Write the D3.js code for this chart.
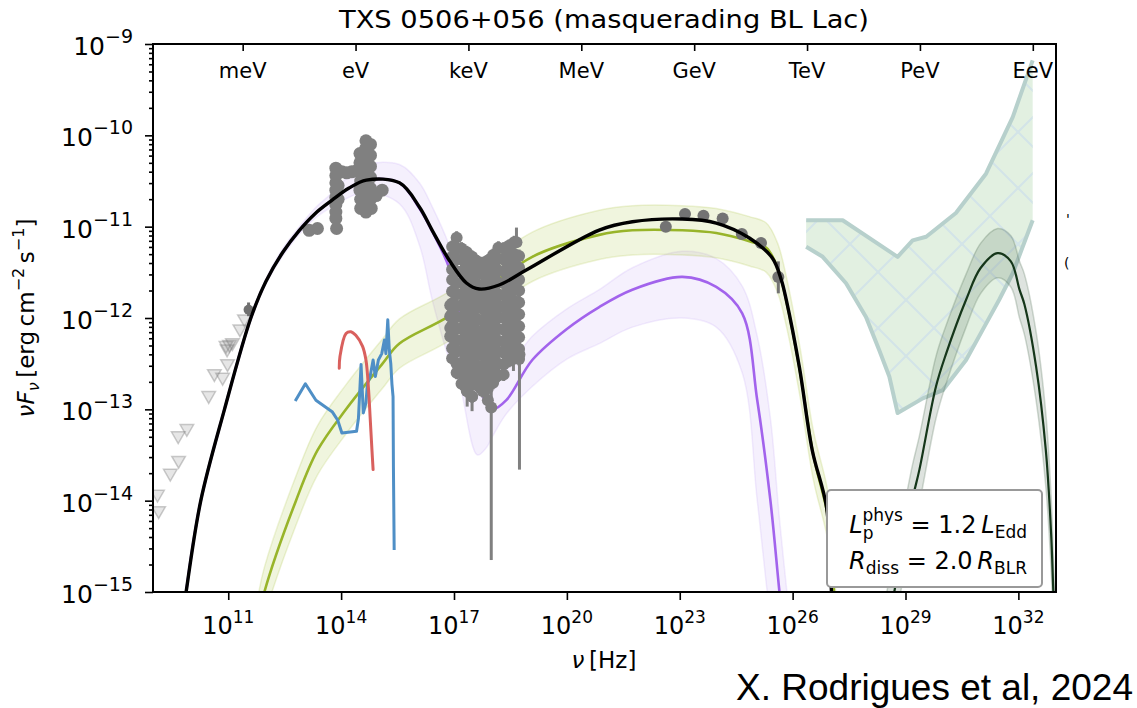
<!DOCTYPE html>
<html>
<head>
<meta charset="utf-8">
<script src="https://cdn.jsdelivr.net/npm/d3@7"></script>
<style>
  body { margin: 0; background: #fff; }
  svg { display: block; font-family: "DejaVu Sans", sans-serif; }
</style>
</head>
<body>
<svg id="chart" width="1137" height="708"></svg>
<script>
// All values are log10(nu / Hz) and log10(nuF_nu / erg cm^-2 s^-1)

const yTickExponents = [-15, -14, -13, -12, -11, -10, -9];
const xTickExponents = [11, 14, 17, 20, 23, 26, 29, 32];
const energyUnits = ["meV", "eV", "keV", "MeV", "GeV", "TeV", "PeV", "EeV"];
const energyUnitExponents = [-3, 0, 3, 6, 9, 12, 15, 18];   // log10(E / eV)
const planckEvS = 4.135667e-15;

// total emission (black)
const totalModel = [
  [9.78, -15.3], [9.88, -15.0], [10.27, -14.0], [10.9, -13.0], [11.6, -12.0], [12.0, -11.6],
  [12.45, -11.28], [12.89, -11.04], [13.3, -10.86], [13.76, -10.71], [14.2, -10.58], [14.67, -10.49],
  [15.55, -10.52], [16.08, -10.785], [16.42, -11.04], [16.87, -11.365], [17.33, -11.617],
  [17.67, -11.683], [18.2, -11.639], [18.92, -11.475], [20.86, -11.037], [21.74, -10.946],
  [23.07, -10.916], [23.97, -10.96], [24.85, -11.124], [25.46, -11.343], [25.70, -11.584],
  [25.83, -11.80], [26.18, -12.54], [26.52, -13.445], [26.90, -14.07], [27.03, -14.98], [27.06, -15.3]
];

// [log nu, curve, band low, band high]
const leptonicModel = [
  [11.80, -15.30, -15.57, -15.03], [11.96, -15.0, -15.27, -14.73], [12.8, -14.0, -14.27, -13.73],
  [13.37, -13.45, -13.72, -13.18], [14.13, -13.0, -13.27, -12.73], [15.1, -12.5, -12.77, -12.23],
  [15.55, -12.28, -12.55, -12.01], [16.87, -11.98, -12.25, -11.71], [19.08, -11.33, -11.60, -11.06],
  [20.86, -11.09, -11.36, -10.82], [21.74, -11.04, -11.31, -10.77], [23.07, -11.04, -11.31, -10.77],
  [23.97, -11.07, -11.34, -10.80], [24.85, -11.16, -11.43, -10.89], [25.3, -11.23, -11.50, -10.96],
  [25.6, -11.45, -11.72, -11.18], [25.85, -11.85, -12.12, -11.58], [26.2, -12.6, -12.87, -12.33],
  [26.55, -13.5, -13.77, -13.23], [26.95, -14.2, -14.47, -13.93], [27.1, -15.0, -15.27, -14.73],
  [27.15, -15.3, -15.57, -15.03]
];

const hadronicModel = [
  [9.80, -15.3, -15.32, -15.28], [9.88, -15.0, -15.03, -14.97], [10.27, -14.0, -14.03, -13.97],
  [10.9, -13.0, -13.03, -12.97], [11.6, -12.0, -12.03, -11.97], [12.0, -11.6, -11.63, -11.57],
  [12.45, -11.28, -11.32, -11.24], [12.89, -11.04, -11.08, -11.00], [13.3, -10.86, -10.91, -10.80],
  [13.76, -10.71, -10.78, -10.63], [14.2, -10.58, -10.68, -10.45], [14.67, -10.49, -10.62, -10.32],
  [15.55, -10.52, -10.75, -10.32], [16.08, -10.80, -11.2, -10.52], [16.42, -11.05, -11.8, -10.78],
  [16.87, -11.45, -12.45, -11.2], [17.14, -11.95, -12.71, -11.55], [17.62, -12.7, -13.5, -12.15],
  [17.86, -12.93, -13.42, -12.45], [18.02, -13.0, -13.3, -12.58], [18.39, -12.90, -13.05, -12.55],
  [19.08, -12.46, -12.75, -12.2], [20.0, -12.12, -12.45, -11.9], [20.86, -11.88, -12.28, -11.69],
  [21.74, -11.69, -12.1, -11.45], [23.07, -11.55, -12.0, -11.27], [23.97, -11.66, -12.1, -11.35],
  [24.66, -11.95, -12.6, -11.65], [25.06, -12.9, -14.0, -12.2], [25.41, -14.0, -15.3, -13.1],
  [25.65, -15.0, -16.0, -14.2], [25.9, -16.0, -17.0, -15.2]
];

// all-flavour neutrino spectrum
const neutrinoModel = [
  [28.5, -15.4, -15.8, -15.0], [28.7, -15.0, -15.37, -14.63], [29.18, -13.99, -14.36, -13.62],
  [29.37, -13.66, -14.03, -13.29], [29.81, -12.75, -13.1, -12.42], [30.08, -12.39, -12.72, -12.08],
  [30.61, -11.80, -12.1, -11.52], [31.0, -11.45, -11.73, -11.18], [31.45, -11.29, -11.56, -11.02],
  [31.8, -11.38, -11.66, -11.1], [32.03, -11.69, -12.0, -11.38], [32.16, -11.85, -12.18, -11.52],
  [32.47, -12.53, -12.9, -12.15], [32.73, -13.45, -13.85, -13.05], [32.87, -14.36, -14.75, -13.95],
  [32.93, -15.0, -15.4, -14.6], [32.98, -15.5, -15.9, -15.1]
];

// IceCube 2014-15 neutrino flux contour
const neutrinoFluxUpper = [
  [26.36, -10.93], [27.33, -10.93], [28.79, -11.33], [29.19, -11.15], [29.55, -11.11],
  [30.34, -10.85], [31.14, -10.42], [31.85, -9.80], [32.38, -9.18]
];
const neutrinoFluxLower = [
  [26.36, -11.22], [26.80, -11.33], [27.42, -11.62], [27.95, -11.99], [28.30, -12.35],
  [28.57, -12.64], [28.79, -13.04], [29.46, -12.88], [29.99, -12.79], [30.61, -12.46],
  [31.05, -12.13], [31.49, -11.80], [31.85, -11.51], [32.38, -10.93]
];

// radio / mm upper limits
const radioUpperLimits = [
  [9.12, -13.94], [9.15, -14.12], [9.46, -13.71], [9.68, -13.57], [9.67, -13.30], [9.90, -13.22],
  [10.48, -12.86], [10.63, -12.62], [10.85, -12.66], [10.98, -12.51], [10.97, -12.35],
  [10.94, -12.31], [11.03, -12.30], [11.11, -12.28], [11.31, -12.13], [11.43, -12.02]
];
const radioPoints = [[11.54, -11.91, -11.98, -11.83]];

// optical / UV photometry
const opticalPoints = [
  [13.15, -11.04], [13.37, -11.02],
  [13.86, -10.36], [13.86, -10.44], [13.86, -10.52], [13.86, -10.60], [13.86, -10.68], [13.86, -10.76],
  [13.86, -10.84], [13.86, -10.91], [13.88, -11.02], [13.92, -10.40], [13.92, -10.55], [13.92, -10.70],
  [14.02, -10.40], [14.15, -10.41], [14.28, -10.40], [14.40, -10.39],
  [14.50, -10.20], [14.50, -10.30], [14.52, -10.40], [14.52, -10.50], [14.50, -10.60], [14.52, -10.70],
  [14.52, -10.80], [14.66, -10.06], [14.66, -10.14], [14.66, -10.23], [14.66, -10.32], [14.66, -10.41],
  [14.66, -10.50], [14.66, -10.59], [14.66, -10.68], [14.66, -10.76], [14.66, -10.84],
  [14.78, -10.10], [14.78, -10.22], [14.78, -10.34], [14.78, -10.46], [14.78, -10.58], [14.78, -10.70],
  [14.80, -10.80], [14.93, -10.66], [15.09, -10.60]
];

// X-ray spectra (Swift-XRT / NuSTAR)
const xrayNu = [16.90, 16.95, 17.07, 17.20, 17.34, 17.48, 17.62, 17.76, 17.90, 18.04, 18.18, 18.32, 18.46, 18.60, 18.73];
const xrayFlux = [
  [-11.86, -11.98, -12.11, -12.20],
  [-11.22, -11.33, -11.47, -11.58, -11.71, -11.84, -11.95, -12.08, -12.21, -12.33, -12.44],
  [-11.12, -11.24, -11.36, -11.49, -11.62, -11.74, -11.87, -11.99, -12.12, -12.25, -12.37, -12.50, -12.60],
  [-11.24, -11.36, -11.49, -11.61, -11.74, -11.86, -11.99, -12.11, -12.24, -12.36, -12.49, -12.61, -12.72],
  [-11.28, -11.40, -11.52, -11.65, -11.78, -11.90, -12.03, -12.15, -12.28, -12.41, -12.53, -12.66, -12.80],
  [-11.33, -11.45, -11.58, -11.70, -11.83, -11.96, -12.08, -12.21, -12.34, -12.46, -12.59, -12.72, -12.86],
  [-11.38, -11.50, -11.63, -11.76, -11.88, -12.01, -12.14, -12.26, -12.39, -12.52, -12.64, -12.74],
  [-11.40, -11.52, -11.65, -11.78, -11.90, -12.03, -12.16, -12.29, -12.41, -12.54, -12.67, -12.80],
  [-11.37, -11.49, -11.62, -11.75, -11.87, -12.00, -12.13, -12.26, -12.38, -12.51, -12.64, -12.77, -12.90],
  [-11.31, -11.43, -11.56, -11.69, -11.82, -11.94, -12.07, -12.20, -12.33, -12.46, -12.58, -12.71],
  [-11.23, -11.35, -11.48, -11.61, -11.74, -11.86, -11.99, -12.12, -12.25, -12.37, -12.50, -12.63],
  [-11.24, -11.36, -11.49, -11.62, -11.75, -11.88, -12.00, -12.13, -12.26, -12.38, -12.51, -12.62],
  [-11.21, -11.33, -11.46, -11.59, -11.71, -11.84, -11.97, -12.10, -12.22, -12.35, -12.47],
  [-11.17, -11.30, -11.42, -11.55, -11.68, -11.81, -11.93, -12.06, -12.19, -12.31, -12.44],
  [-11.32, -11.45, -11.58, -11.70, -11.83, -11.96, -12.09, -12.21, -12.34, -12.45]
];
const xrayFluxError = 0.07;
const xrayWideErrors = [
  [17.35, -12.80, -12.97, -12.70], [17.48, -12.86, -13.02, -12.75], [17.99, -12.98, -14.65, -12.80],
  [18.74, -12.40, -13.66, -12.20], [18.66, -11.17, -11.17, -11.01], [18.58, -12.30, -12.58, -12.20]
];

// Fermi-LAT
const gammaPoints = [
  [22.63, -11.00, -11.00, -11.00], [23.14, -10.86, -10.86, -10.86], [23.63, -10.88, -10.88, -10.88],
  [24.14, -10.91, -10.91, -10.91], [24.65, -11.08, -11.08, -11.08], [25.16, -11.18, -11.18, -11.18],
  [25.62, -11.55, -11.73, -11.38]
];

// optical spectra
const redSpectrum = [
  [13.95, -12.55], [13.97, -12.42], [14.13, -12.17], [14.26, -12.15], [14.39, -12.19], [14.57, -12.31],
  [14.66, -12.46], [14.73, -12.79], [14.77, -13.08], [14.82, -13.45], [14.85, -13.66]
];
const blueSpectrum = [
  [12.78, -12.91], [13.05, -12.72], [13.33, -12.90], [13.77, -13.03], [13.91, -13.12], [14.02, -13.26],
  [14.41, -13.24], [14.46, -13.10], [14.53, -12.51], [14.59, -13.04], [14.66, -12.93], [14.70, -12.72],
  [14.77, -12.64], [14.85, -12.46], [14.91, -12.64], [14.99, -12.46], [15.08, -12.39], [15.15, -12.24],
  [15.19, -12.39], [15.24, -12.02], [15.28, -12.35], [15.32, -12.50], [15.35, -12.72], [15.38, -12.86],
  [15.39, -13.63], [15.41, -14.54]
];

// ---------------------------------------------------------------
const plot = { left: 153, right: 1056, top: 44, bottom: 592 };
const x = d3.scaleLog().domain([1e9, 1e33]).range([plot.left, plot.right]);
const y = d3.scaleLog().domain([1e-15, 1e-9]).range([plot.bottom, plot.top]);
const X = v => x(Math.pow(10, v));
const Y = v => y(Math.pow(10, v));

const svg = d3.select("#chart");
const defs = svg.append("defs");
defs.append("clipPath").attr("id", "plotClip").append("rect")
  .attr("x", plot.left).attr("y", plot.top)
  .attr("width", plot.right - plot.left).attr("height", plot.bottom - plot.top);

const hatch = defs.append("pattern").attr("id", "xhatch")
  .attr("patternUnits", "userSpaceOnUse").attr("width", 56).attr("height", 56)
  .attr("patternTransform", "translate(10,20)");
hatch.append("path").attr("d", "M0,0L56,56M56,0L0,56")
  .attr("stroke", "#d3e4e8").attr("stroke-width", 2.2).attr("fill", "none");

const P = svg.append("g").attr("clip-path", "url(#plotClip)");

const straight = d3.line().x(d => X(d[0])).y(d => Y(d[1]));
const smooth = d3.line().x(d => X(d[0])).y(d => Y(d[1])).curve(d3.curveCatmullRom.alpha(0.5));
const bandArea = d3.area().x(d => X(d[0])).y0(d => Y(d[2])).y1(d => Y(d[3])).curve(d3.curveCatmullRom.alpha(0.5));
const bandLow = d3.line().x(d => X(d[0])).y(d => Y(d[2])).curve(d3.curveCatmullRom.alpha(0.5));
const bandHigh = d3.line().x(d => X(d[0])).y(d => Y(d[3])).curve(d3.curveCatmullRom.alpha(0.5));

// neutrino flux contour
const contour = neutrinoFluxUpper.concat(neutrinoFluxLower.slice().reverse());
P.append("path").attr("d", straight(contour) + "Z").attr("fill", "#e2f0e1");
P.append("path").attr("d", straight(contour) + "Z").attr("fill", "url(#xhatch)");
[neutrinoFluxUpper, neutrinoFluxLower].forEach(edge => {
  P.append("path").attr("d", straight(edge)).attr("fill", "none")
    .attr("stroke", "#b7d0cc").attr("stroke-width", 4).attr("stroke-linejoin", "round");
});

// model bands
function drawBand(data, color, fillOp, edgeOp) {
  P.append("path").attr("d", bandArea(data)).attr("fill", color).attr("fill-opacity", fillOp);
  [bandLow, bandHigh].forEach(gen => {
    P.append("path").attr("d", gen(data)).attr("fill", "none")
      .attr("stroke", color).attr("stroke-opacity", edgeOp).attr("stroke-width", 1.5);
  });
}
drawBand(neutrinoModel, "#58755d", 0.2, 0.28);
drawBand(hadronicModel, "#b48cf0", 0.13, 0.16);
drawBand(leptonicModel, "#a9c23a", 0.17, 0.2);

P.append("path").attr("d", smooth(neutrinoModel)).attr("fill", "none")
  .attr("stroke", "#15361a").attr("stroke-width", 2.2);
P.append("path").attr("d", smooth(leptonicModel)).attr("fill", "none")
  .attr("stroke", "#98b42a").attr("stroke-width", 2.6);
P.append("path").attr("d", smooth(hadronicModel)).attr("fill", "none")
  .attr("stroke", "#a263ec").attr("stroke-width", 2.6);

// optical spectra
P.append("path").attr("d", straight(blueSpectrum)).attr("fill", "none")
  .attr("stroke", "#4f8fc6").attr("stroke-width", 3).attr("stroke-linejoin", "round");
P.append("path").attr("d", smooth(redSpectrum)).attr("fill", "none")
  .attr("stroke", "#d9605d").attr("stroke-width", 3).attr("stroke-linecap", "round");

// upper limits
const tri = d3.symbol().type(d3.symbolTriangle).size(80);
P.selectAll("path.ul").data(radioUpperLimits).enter().append("path").attr("class", "ul")
  .attr("d", tri).attr("transform", d => `translate(${X(d[0])},${Y(d[1]) - 1}) rotate(180)`)
  .attr("fill", "#808080").attr("fill-opacity", 0.2)
  .attr("stroke", "#808080").attr("stroke-opacity", 0.4).attr("stroke-width", 1.5);

// error bars
function errorBars(data, color, w) {
  P.selectAll(null).data(data).enter().append("line")
    .attr("x1", d => X(d[0])).attr("x2", d => X(d[0]))
    .attr("y1", d => Y(d[2])).attr("y2", d => Y(d[3]))
    .attr("stroke", color).attr("stroke-width", w);
}
function dots(data, color, r) {
  P.selectAll(null).data(data).enter().append("circle")
    .attr("cx", d => X(d[0])).attr("cy", d => Y(d[1])).attr("r", r).attr("fill", color);
}

errorBars(radioPoints, "#707070", 3);
dots(radioPoints, "#707070", 5);

dots(opticalPoints, "#808080", 6.5);

const xrayPoints = [];
xrayNu.forEach((nu, i) => xrayFlux[i].forEach(f => xrayPoints.push([nu, f, f - xrayFluxError, f + xrayFluxError])));
errorBars(xrayPoints, "#808080", 3);
errorBars(xrayWideErrors, "#808080", 3);
dots(xrayPoints, "#808080", 6);
dots(xrayWideErrors, "#808080", 6);

errorBars(gammaPoints, "#737373", 3);
dots(gammaPoints, "#737373", 6);

// total
P.append("path").attr("d", smooth(totalModel)).attr("fill", "none")
  .attr("stroke", "#000").attr("stroke-width", 3.4);

// ---------------- axes ----------------
const axes = svg.append("g");
const tickColor = "#000";

// y major + minor ticks (outward)
const yMinor = [];
yTickExponents.slice(0, -1).forEach(e => { for (let m = 2; m <= 9; m++) yMinor.push(m * Math.pow(10, e)); });
const gyMinor = axes.append("g").attr("transform", `translate(${plot.left},0)`)
  .call(d3.axisLeft(y).tickValues(yMinor).tickSize(4).tickFormat(""));
const gy = axes.append("g").attr("transform", `translate(${plot.left},0)`)
  .call(d3.axisLeft(y).tickValues(yTickExponents.map(e => Math.pow(10, e))).tickSize(8).tickFormat(""));
const gx = axes.append("g").attr("transform", `translate(0,${plot.bottom})`)
  .call(d3.axisBottom(x).tickValues(xTickExponents.map(e => Math.pow(10, e))).tickSize(8).tickFormat(""));
[gyMinor, gy, gx].forEach(g => {
  g.select(".domain").remove();
  g.selectAll(".tick line").attr("stroke", tickColor).attr("stroke-width", 1.6);
});

// energy ticks along the top (inward)
const energyNu = energyUnitExponents.map(e => Math.pow(10, e) / planckEvS);
const gTop = axes.append("g").attr("transform", `translate(0,${plot.top})`)
  .call(d3.axisTop(x).tickValues(energyNu).tickSizeInner(-7).tickSizeOuter(0).tickFormat(""));
gTop.select(".domain").remove();
gTop.selectAll(".tick line").attr("stroke", tickColor).attr("stroke-width", 1.6);
axes.selectAll("text.energy").data(energyUnits).enter().append("text").attr("class", "energy")
  .attr("x", (d, i) => x(energyNu[i])).attr("y", 78)
  .attr("text-anchor", "middle").attr("font-size", 21).attr("fill", "#000").text(d => d);

// spines
axes.append("rect").attr("x", plot.left).attr("y", plot.top)
  .attr("width", plot.right - plot.left).attr("height", plot.bottom - plot.top)
  .attr("fill", "none").attr("stroke", "#000").attr("stroke-width", 2);

// y tick labels
yTickExponents.forEach(e => {
  const t = axes.append("text").attr("x", 133).attr("y", Y(e) + 11)
    .attr("text-anchor", "end").attr("fill", "#000");
  t.append("tspan").attr("font-size", 25).text("10");
  t.append("tspan").attr("font-size", 19).attr("dy", -12).text("\u2212" + Math.abs(e));
});

// x tick labels
xTickExponents.forEach(e => {
  const t = axes.append("text").attr("x", X(e)).attr("y", 634)
    .attr("text-anchor", "middle").attr("fill", "#000");
  t.append("tspan").attr("font-size", 24).text("10");
  t.append("tspan").attr("font-size", 17).attr("dy", -11).text(String(e));
});

// axis titles
const xl = svg.append("text").attr("x", 604).attr("y", 668).attr("text-anchor", "middle")
  .attr("font-size", 23).attr("fill", "#000");
xl.append("tspan").attr("font-style", "italic").text("\u03bd");
xl.append("tspan").text("\u2009[Hz]");

const yl = svg.append("text").attr("transform", "translate(34,318) rotate(-90)")
  .attr("text-anchor", "middle").attr("font-size", 23).attr("fill", "#000");
yl.append("tspan").attr("font-style", "italic").text("\u03bdF");
yl.append("tspan").attr("font-style", "italic").attr("font-size", 16).attr("dy", 5).text("\u03bd");
yl.append("tspan").attr("dy", -5).text("\u2009[erg\u2009cm");
yl.append("tspan").attr("font-size", 16).attr("dy", -10).text("\u22122");
yl.append("tspan").attr("dy", 10).text("\u2009s");
yl.append("tspan").attr("font-size", 16).attr("dy", -10).text("\u22121");
yl.append("tspan").attr("dy", 10).text("]");

// title
svg.append("text").attr("x", 604).attr("y", 28).attr("text-anchor", "middle")
  .attr("font-size", 25).attr("textLength", 530).attr("lengthAdjust", "spacingAndGlyphs")
  .attr("fill", "#000").text("TXS 0506+056 (masquerading BL Lac)");

// parameter box
const box = svg.append("g");
box.append("rect").attr("x", 827).attr("y", 490).attr("width", 215).attr("height", 97)
  .attr("rx", 4).attr("fill", "#fff").attr("stroke", "#999").attr("stroke-width", 2);
const l1 = box.append("text").attr("x", 1027).attr("y", 533).attr("text-anchor", "end")
  .attr("font-size", 24).attr("fill", "#000");
l1.append("tspan").attr("font-style", "italic").text("L");
l1.append("tspan").attr("font-size", 17).attr("dy", 6).text("p");
l1.append("tspan").attr("font-size", 17).attr("dx", -11).attr("dy", -18).text("phys");
l1.append("tspan").attr("dy", 12).text(" = 1.2\u2009");
l1.append("tspan").attr("font-style", "italic").text("L");
l1.append("tspan").attr("font-size", 17).attr("dy", 5).text("Edd");
const l2 = box.append("text").attr("x", 1027).attr("y", 569).attr("text-anchor", "end")
  .attr("font-size", 24).attr("fill", "#000");
l2.append("tspan").attr("font-style", "italic").text("R");
l2.append("tspan").attr("font-size", 17).attr("dy", 5).text("diss");
l2.append("tspan").attr("dy", -5).text(" = 2.0\u2009");
l2.append("tspan").attr("font-style", "italic").text("R");
l2.append("tspan").attr("font-size", 17).attr("dy", 5).text("BLR");

// fragments of labels beyond the frame
svg.append("text").attr("x", 1066).attr("y", 224).attr("font-size", 14).attr("fill", "#000").text("'");
svg.append("text").attr("x", 1064).attr("y", 268).attr("font-size", 14).attr("fill", "#000").text("(");

// credit
svg.append("text").attr("x", 1133).attr("y", 700).attr("text-anchor", "end")
  .attr("font-family", "'Liberation Sans', Arial, sans-serif").attr("font-size", 37)
  .attr("fill", "#000").text("X. Rodrigues et al, 2024");
</script>
</body>
</html>
